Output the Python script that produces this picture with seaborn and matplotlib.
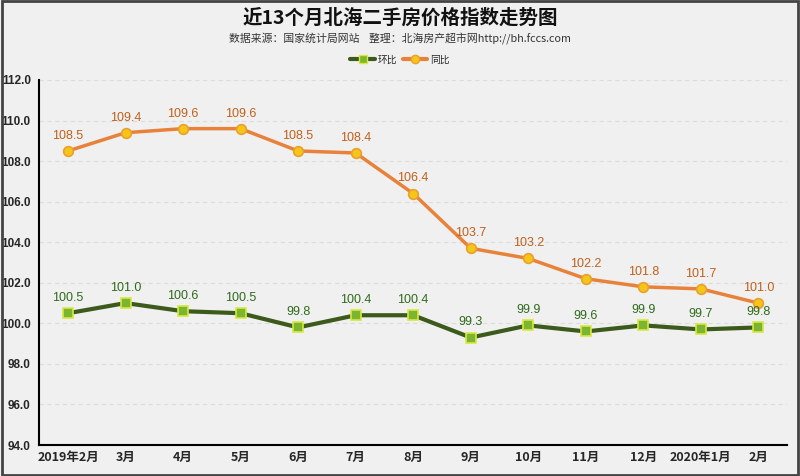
import matplotlib
matplotlib.use("Agg")
import matplotlib.pyplot as plt
import seaborn as sns
import pandas as pd
from matplotlib.patches import Rectangle
from matplotlib.lines import Line2D

months = ["2019年2月", "3月", "4月", "5月", "6月", "7月", "8月", "9月", "10月", "11月", "12月", "2020年1月", "2月"]
huanbi = [100.5, 101.0, 100.6, 100.5, 99.8, 100.4, 100.4, 99.3, 99.9, 99.6, 99.9, 99.7, 99.8]
tongbi = [108.5, 109.4, 109.6, 109.6, 108.5, 108.4, 106.4, 103.7, 103.2, 102.2, 101.8, 101.7, 101.0]
yticks = [94.0, 96.0, 98.0, 100.0, 102.0, 104.0, 106.0, 108.0, 110.0, 112.0]

sns.set_theme(style="white")
plt.rcParams['font.family'] = ['Noto Sans CJK SC', 'DejaVu Sans']

bg = "#f0f0f0"
fig = plt.figure(figsize=(8, 4.76), dpi=100, facecolor=bg)
ax = fig.add_axes([0.049, 0.065, 0.935, 0.767])
ax.set_facecolor(bg)

pos = list(range(len(months)))
df = pd.DataFrame({"pos": pos, "环比": huanbi, "同比": tongbi})

sns.lineplot(data=df, x="pos", y="同比", ax=ax, color="#e8823a", linewidth=2.5,
             marker="o", markersize=7, markerfacecolor="#f5c518", markeredgecolor="#e8a030",
             markeredgewidth=1.2, zorder=3)
sns.lineplot(data=df, x="pos", y="环比", ax=ax, color="#3b5a1c", linewidth=3,
             marker="s", markersize=7, markerfacecolor="#7cb630", markeredgecolor="#d8e840",
             markeredgewidth=1.2, zorder=3)

for p, v in zip(pos, tongbi):
    ax.text(p, v + 0.45, f"{v:.1f}", ha="center", va="bottom", fontsize=9, color="#c0601a",
            family=['Liberation Sans'])
for p, v in zip(pos, huanbi):
    ax.text(p, v + 0.45, f"{v:.1f}", ha="center", va="bottom", fontsize=9, color="#2f6a1a",
            family=['Liberation Sans'])

ax.set_xlim(-0.5, len(months) - 0.5)
ax.set_ylim(94, 112)
ax.set_yticks(yticks)
ax.set_yticklabels([f"{t:.1f}" for t in yticks], fontsize=8.5, fontweight="bold",
                   family=['Liberation Sans'])
ax.set_xticks([i - 0.5 for i in range(len(months) + 1)])
ax.set_xticklabels([])
ax.set_xticks(pos, minor=True)
ax.set_xticklabels(months, minor=True, fontsize=9, fontweight="bold")
ax.tick_params(axis="x", which="major", length=5, width=1.5, color="black", direction="out")
ax.tick_params(axis="x", which="minor", length=0, pad=4)
ax.tick_params(axis="y", length=4, width=1.5, color="black", direction="out", pad=2)
ax.set_xlabel("")
ax.set_ylabel("")

for t in yticks[1:]:
    ax.axhline(t, color="#dcdcdc", linewidth=0.8, linestyle=(0, (4, 3)), zorder=1)

for s in ["top", "right"]:
    ax.spines[s].set_visible(False)
for s in ["left", "bottom"]:
    ax.spines[s].set_color("black")
    ax.spines[s].set_linewidth(1.5)

fig.text(0.5, 0.962, "近13个月北海二手房价格指数走势图", ha="center", va="center",
         fontsize=14, fontweight="bold", color="#111111")
fig.text(0.5, 0.918, "数据来源：国家统计局网站    整理：北海房产超市网http://bh.fccs.com",
         ha="center", va="center", fontsize=7.8, color="#333333")

handles = [
    Line2D([0], [0], color="#3b5a1c", lw=3, marker="s", markersize=6,
           markerfacecolor="#7cb630", markeredgecolor="#d8e840"),
    Line2D([0], [0], color="#e8823a", lw=3, marker="o", markersize=6,
           markerfacecolor="#f5c518", markeredgecolor="#e8a030"),
]
fig.legend(handles, ["环比", "同比"], loc="center", bbox_to_anchor=(0.5, 0.875), ncol=2,
           frameon=False, fontsize=7, handlelength=2.5, columnspacing=0.6, handletextpad=0.3)

fig.patches.append(Rectangle((0.002, 0.003), 0.996, 0.994, transform=fig.transFigure,
                             fill=False, edgecolor="#444444", linewidth=2))

fig.savefig("out.png", dpi=100, facecolor=bg)
